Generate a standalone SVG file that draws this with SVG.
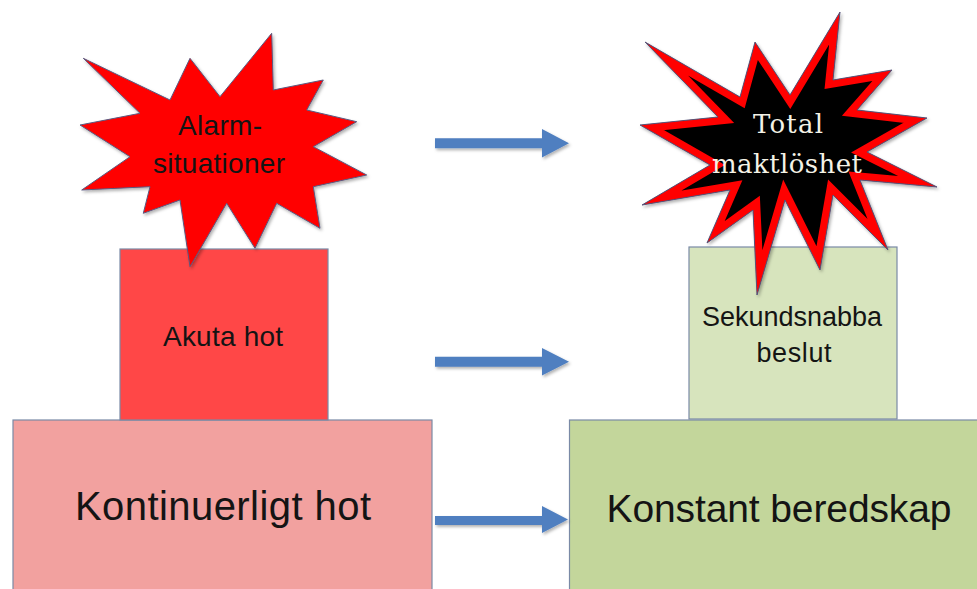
<svg xmlns="http://www.w3.org/2000/svg" width="977" height="589" viewBox="0 0 977 589">
<style>
.box{stroke:#7a8aa6;stroke-width:1.2}
.sans{font-family:"Liberation Sans",Arial,sans-serif;fill:#141414;text-anchor:middle}
.serif{font-family:"DejaVu Serif","Liberation Serif",serif;fill:#f4f2e6;text-anchor:middle}
.arrow{fill:#4f7fc0}
</style>
<defs>
<filter id="sh" x="-10%" y="-10%" width="130%" height="140%">
<feDropShadow dx="1.5" dy="2" stdDeviation="1.5" flood-color="#000" flood-opacity="0.3"/>
</filter>
<clipPath id="rclip">
<polygon points="840,12 833,80 892,70 857,110 927,118 867,152 937,187 860,180 888,250 833,195 820,270 785,200 757,295 753,210 707,243 730,190 642,205 710,165 640,125 718,117 645,42 740,97 755,42 790,95"/>
</clipPath>
</defs>
<rect width="977" height="589" fill="#ffffff"/>

<g id="node-kontinuerligt">
<rect class="box" x="13" y="420" width="419" height="185" fill="#f2a19f"/>
<text class="sans" x="223" y="520" font-size="40" textLength="296">Kontinuerligt hot</text>
</g>
<g id="node-akuta">
<rect class="box" x="120" y="249" width="208" height="171" fill="#ff4747"/>
<text class="sans" x="223" y="346" font-size="28" textLength="120">Akuta hot</text>
</g>
<g id="node-konstant">
<rect class="box" x="569.5" y="420" width="420" height="185" fill="#c3d69b"/>
<text class="sans" x="779" y="522" font-size="39" textLength="345">Konstant beredskap</text>
</g>
<g id="node-sekundsnabba">
<rect class="box" x="689" y="247" width="208" height="172" fill="#d7e4bd"/>
<text class="sans" x="792" y="326" font-size="27" textLength="180">Sekundsnabba</text>
<text class="sans" x="794" y="362" font-size="27" textLength="75">beslut</text>
</g>

<g id="node-alarm">
<polygon filter="url(#sh)" points="271.7,33.3 273.3,90 323.3,80 306.7,110 356.7,121.7 313.3,146.7 366.7,175 313.3,186.7 320,228.3 276.7,203.3 255,248.3 226.7,203.3 190,266.7 180,200 143.3,213.3 150,186.7 81.7,190 130,156.7 80,125 140,113.3 83.3,58.3 170,100 190,58.3 220,96.7" fill="#ff0000" stroke="#5a5a80" stroke-width="1"/>
<text class="sans" x="220" y="135" font-size="28" textLength="84">Alarm-</text>
<text class="sans" x="219" y="173" font-size="28" textLength="132">situationer</text>
</g>

<g id="node-total">
<g filter="url(#sh)">
<polygon clip-path="url(#rclip)" points="840,12 833,80 892,70 857,110 927,118 867,152 937,187 860,180 888,250 833,195 820,270 785,200 757,295 753,210 707,243 730,190 642,205 710,165 640,125 718,117 645,42 740,97 755,42 790,95" fill="#000000" stroke="#ff0000" stroke-width="15" stroke-linejoin="miter"/>
<polygon points="840,12 833,80 892,70 857,110 927,118 867,152 937,187 860,180 888,250 833,195 820,270 785,200 757,295 753,210 707,243 730,190 642,205 710,165 640,125 718,117 645,42 740,97 755,42 790,95" fill="none" stroke="#55557a" stroke-width="1"/>
</g>
<text class="serif" x="788" y="133" font-size="26" textLength="70">Total</text>
<text class="serif" x="787" y="173" font-size="26" textLength="150">maktlöshet</text>
</g>

<g id="connectors" filter="url(#sh)">
<polygon class="arrow" points="435,138.3 542,138.3 542,129 569,143.3 542,157.6 542,148.3 435,148.3"/>
<polygon class="arrow" points="435,356.7 542,356.7 542,348 569,361.7 542,375.4 542,366.7 435,366.7"/>
<polygon class="arrow" points="435,516 542,516 542,506 568,519.5 542,533 542,525 435,525"/>
</g>
</svg>
